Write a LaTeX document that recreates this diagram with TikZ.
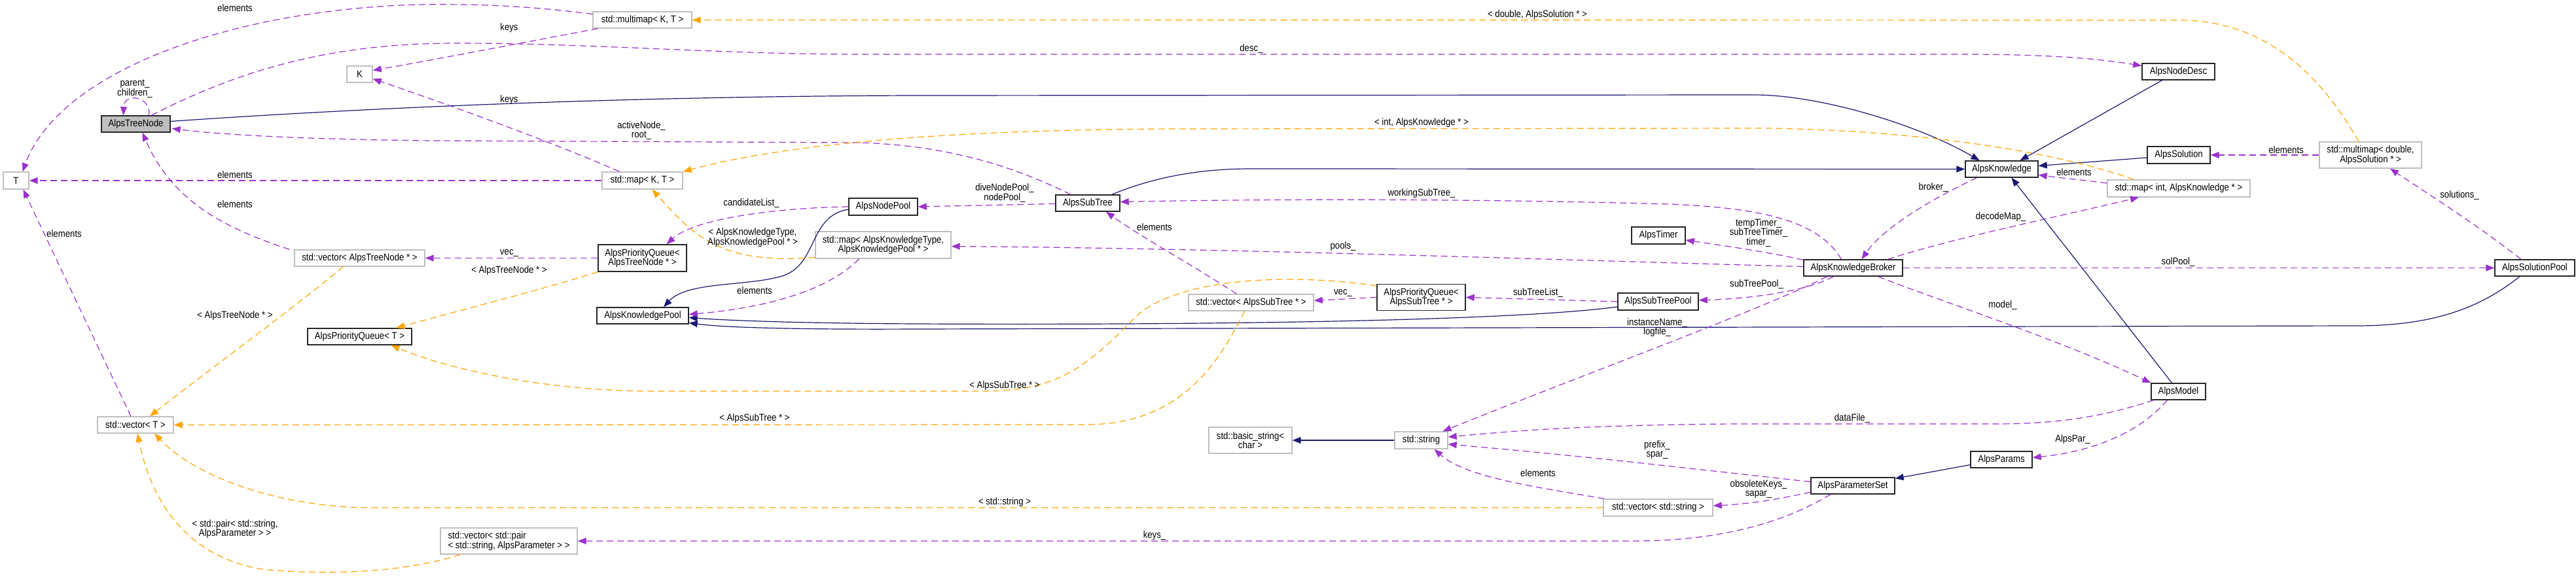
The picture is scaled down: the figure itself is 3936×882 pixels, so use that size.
\documentclass[tikz,border=0pt]{standalone}
\usepackage{fontspec}
\setmainfont{Liberation Sans}[FakeStretch=0.88]
\usetikzlibrary{arrows.meta,calc}
\definecolor{cblue}{HTML}{191970}
\definecolor{cpurple}{HTML}{9A32CD}
\definecolor{corange}{HTML}{FFA500}
\definecolor{cgray}{HTML}{BFBFBF}
\begin{document}
\begin{tikzpicture}[x=1pt,y=-1pt,
  every node/.style={font=\fontsize{15}{14.5}\selectfont},
  cls/.style={draw=black!85, line width=1.4pt, fill=white, minimum height=25pt, inner sep=0pt, align=center},
  ext/.style={cls, draw=cgray},
  sel/.style={cls, fill=cgray},
  lbl/.style={inner sep=0pt, align=center},
  tip/.style={-{Triangle[length=13pt,width=10pt]}},
  inh/.style={draw=cblue, line width=1.2pt, tip},
  use/.style={draw=cpurple, line width=1.2pt, dash pattern=on 10pt off 6pt, tip},
  tmpl/.style={draw=corange, line width=1.2pt, dash pattern=on 10pt off 6pt, tip}]
\fill[white] (0,0) rectangle (3936,882);
\useasboundingbox (0,0) rectangle (3936,882);

% nodes
\node[sel, minimum width=105pt] (treenode) at (207.5,189.5) {AlpsTreeNode};
\node[ext, minimum width=39pt, minimum height=26pt] (T) at (24.5,276) {T};
\node[ext, minimum width=39pt] (K) at (549.5,113.5) {K};
\node[ext, minimum width=199pt] (vecTN) at (549.5,394.5) {std::vector< AlpsTreeNode * >};
\node[ext, minimum width=116pt] (vecT) at (207,649.5) {std::vector< T >};
\node[cls, minimum width=159pt] (pqT) at (549.5,514.5) {AlpsPriorityQueue< T >};
\node[ext, minimum width=151pt] (mmKT) at (981.5,30.5) {std::multimap< K, T >};
\node[ext, minimum width=123pt, minimum height=26pt] (mapKT) at (981.5,276) {std::map< K, T >};
\node[cls, minimum width=135pt, minimum height=41pt] (pqTN) at (981.5,394.5) {AlpsPriorityQueue<\\AlpsTreeNode * >};
\node[cls, minimum width=140pt] (kpool) at (982,482.5) {AlpsKnowledgePool};
\node[ext, minimum width=209pt, minimum height=40pt, align=left] (vecPair) at (777.5,827) {std::vector< std::pair\\< std::string, AlpsParameter > >};
\node[cls, minimum width=105pt, minimum height=26pt] (nodepool) at (1349.5,316) {AlpsNodePool};
\node[ext, minimum width=207pt, minimum height=41pt] (mapKP) at (1349.5,374.5) {std::map< AlpsKnowledgeType,\\AlpsKnowledgePool * >};
\node[cls, minimum width=98pt] (subtree) at (1662,310.5) {AlpsSubTree};
\node[ext, minimum width=191pt] (vecST) at (1911.5,462.5) {std::vector< AlpsSubTree * >};
\node[ext, minimum width=127pt, minimum height=40pt] (bstr) at (1910.5,673) {std::basic\_string<\\char >};
\node[cls, minimum width=82pt, minimum height=26pt] (timer) at (2534,360) {AlpsTimer};
\node[cls, minimum width=135pt, minimum height=40pt] (pqST) at (2171.5,454.5) {AlpsPriorityQueue<\\AlpsSubTree * >};
\node[cls, minimum width=123pt, minimum height=26pt] (stpool) at (2533.5,461) {AlpsSubTreePool};
\node[ext, minimum width=81pt, minimum height=26pt] (str) at (2171.5,673) {std::string};
\node[ext, minimum width=167pt, minimum height=26pt] (vecStr) at (2533.5,776) {std::vector< std::string >};
\node[cls, minimum width=111pt] (know) at (3058.5,258.5) {AlpsKnowledge};
\node[ext, minimum width=218pt, minimum height=26pt] (mapIK) at (3329,288) {std::map< int, AlpsKnowledge * >};
\node[cls, minimum width=151pt] (broker) at (2831.5,409.5) {AlpsKnowledgeBroker};
\node[cls, minimum width=111pt] (nodedesc) at (3328.5,109.5) {AlpsNodeDesc};
\node[cls, minimum width=96pt, minimum height=26pt] (solution) at (3329,237) {AlpsSolution};
\node[cls, minimum width=94pt] (params) at (3058,702.5) {AlpsParams};
\node[cls, minimum width=128pt] (pset) at (2831,742.5) {AlpsParameterSet};
\node[cls, minimum width=83pt] (model) at (3328.5,598.5) {AlpsModel};
\node[ext, minimum width=156pt, minimum height=40pt] (mmDS) at (3622,237) {std::multimap< double,\\AlpsSolution * >};
\node[cls, minimum width=122pt] (solpool) at (3873,409.5) {AlpsSolutionPool};

% inheritance
\draw[inh] ($(treenode.east)+(0,-4)$) .. controls (600,162) and (1000,147) .. (1400,146) -- (2680,145) .. controls (2780,145) and (2930,190) .. ($(know.north)+(-34,0)$);
\draw[inh] ($(subtree.north)+(37,0)$) .. controls (1760,272) and (1830,258) .. (1910,258) -- (know.west);
\draw[inh] ($(nodedesc.south)+(-25,0)$) -- ($(know.north)+(28,0)$);
\draw[inh] ($(solution.west)+(0,4)$) -- ($(know.east)+(0,-5)$);
\draw[inh] ($(model.north)+(-10,0)$) -- ($(know.south)+(15,0)$);
\draw[inh] ($(nodepool.west)+(0,4)$) .. controls (1235,330) and (1250,405) .. (1195,422) .. controls (1140,438) and (1050,430) .. ($(kpool.north)+(32,0)$);
\draw[inh] ($(stpool.west)+(0,8)$) .. controls (2300,492) and (1800,497) .. (1400,495) .. controls (1200,494) and (1100,489) .. ($(kpool.east)+(0,3)$);
\draw[inh] ($(solpool.south)+(-23,0)$) .. controls (3790,470) and (3720,498) .. (3600,498) -- (1400,503) .. controls (1200,504) and (1100,500) .. ($(kpool.east)+(0,11)$);
\draw[inh] (str.west) -- (bstr.east);
\draw[inh] ($(params.west)+(0,8)$) -- ($(pset.east)+(0,-11)$);

% usage
\draw[use] ($(treenode.north)+(20,0)$) .. controls (232,148) and (190,140) .. ($(treenode.north)+(-19,0)$);
\draw[use] ($(treenode.north)+(24,0)$) .. controls (380,100) and (520,66) .. (700,66) .. controls (900,66) and (1100,83) .. (1316,83) -- (3000,83) .. controls (3150,83) and (3220,92) .. ($(nodedesc.west)+(0,-9)$);
\draw[use] ($(mmKT.west)+(0,-9)$) .. controls (800,8) and (720,6) .. (640,7) .. controls (350,15) and (90,110) .. ($(T.north)+(10,0)$);
\draw[use] ($(mmKT.south)+(-68,0)$) .. controls (800,65) and (660,92) .. ($(K.east)+(0,-6)$);
\draw[use] ($(mapKT.north)+(-35,0)$) .. controls (850,220) and (700,165) .. ($(K.east)+(0,7)$);
\draw[use] (mapKT.west) -- (T.east);
\draw[use] ($(subtree.north)+(-26,0)$) .. controls (1550,255) and (1450,222) .. (1312,218) -- (660,215) .. controls (450,213) and (330,205) .. ($(treenode.east)+(2,7)$);
\draw[use] ($(vecTN.north)+(-107,0)$) .. controls (330,345) and (260,300) .. ($(treenode.south)+(10,0)$);
\draw[use] ($(vecT.north)+(-7,0)$) -- ($(T.south)+(11,0)$);
\draw[use] (pqTN.west) -- (vecTN.east);
\draw[use] (nodepool.west) .. controls (1180,318) and (1060,335) .. ($(pqTN.north)+(37,0)$);
\draw[use] ($(mapKP.south)+(-37,0)$) .. controls (1270,440) and (1180,470) .. ($(kpool.east)+(0,-2)$);
\draw[use] ($(subtree.west)+(0,1)$) -- (nodepool.east);
\draw[use] ($(broker.north)+(-18,0)$) .. controls (2780,340) and (2700,318) .. (2550,312) .. controls (2300,305) and (2000,303) .. ($(subtree.east)+(0,-2)$);
\draw[use] ($(vecST.north)+(-22,0)$) .. controls (1830,410) and (1740,360) .. ($(subtree.south)+(28,0)$);
\draw[use] ($(broker.west)+(0,-2)$) .. controls (2400,398) and (1900,380) .. ($(mapKP.east)+(0,2)$);
\draw[use] ($(broker.north west)+(0,1)$) .. controls (2700,385) and (2630,375) .. ($(timer.east)+(0,7)$);
\draw[use] (pqST.west) -- ($(vecST.east)+(0,-3)$);
\draw[use] (stpool.west) -- (pqST.east);
\draw[use] ($(broker.south)+(-30,0)$) .. controls (2760,445) and (2680,456) .. ($(stpool.east)+(0,-2)$);
\draw[use] ($(broker.south)+(-40,0)$) .. controls (2700,470) and (2400,580) .. ($(str.north)+(33,0)$);
\draw[use] ($(model.south)+(-38,0)$) .. controls (3220,635) and (3150,648) .. (3050,648) -- (2650,648) .. controls (2400,650) and (2300,660) .. ($(str.east)+(0,-5)$);
\draw[use] ($(pset.west)+(0,-6)$) .. controls (2600,718) and (2400,695) .. ($(str.east)+(0,6)$);
\draw[use] ($(vecStr.north west)+(2,0)$) .. controls (2350,745) and (2240,730) .. ($(str.south)+(20,0)$);
\draw[use] ($(pset.west)+(0,10)$) .. controls (2720,762) and (2680,770) .. ($(vecStr.east)+(0,-3)$);
\draw[use] ($(pset.south)+(-34,0)$) .. controls (2740,790) and (2650,826) .. (2500,827) -- (vecPair.east);
\draw[use] ($(model.south)+(-17,0)$) .. controls (3270,660) and (3200,690) .. ($(params.east)+(0,-3)$);
\draw[use] ($(broker.south)+(38,0)$) .. controls (2950,455) and (3150,520) .. (model.north west);
\draw[use] ($(mapIK.west)+(0,-8)$) .. controls (3180,275) and (3150,272) .. ($(know.east)+(0,9)$);
\draw[use] ($(know.south)+(-38,0)$) .. controls (2960,300) and (2880,345) .. ($(broker.north)+(13,0)$);
\draw[use] ($(broker.north)+(53,0)$) .. controls (2980,365) and (3150,330) .. ($(mapIK.south)+(-61,0)$);
\draw[use] (broker.east) -- (solpool.west);
\draw[use] (mmDS.west) -- (solution.east);
\draw[use] ($(solpool.north)+(-21,0)$) .. controls (3780,340) and (3700,290) .. ($(mmDS.south)+(30,0)$);

% template instances
\draw[tmpl] ($(mmDS.north)+(-18,0)$) .. controls (3560,140) and (3480,31) .. (3330,31) -- (mmKT.east);
\draw[tmpl] ($(mapIK.north)+(-69,0)$) .. controls (3150,235) and (2950,200) .. (2700,196) -- (1800,197) .. controls (1450,198) and (1200,220) .. (mapKT.north east);
\draw[tmpl] ($(mapKP.west)+(0,19)$) .. controls (1100,405) and (1060,360) .. ($(mapKT.south)+(15,0)$);
\draw[tmpl] ($(vecTN.south)+(-25,0)$) .. controls (450,470) and (300,580) .. ($(vecT.north)+(22,0)$);
\draw[tmpl] (pqTN.south west) .. controls (820,445) and (700,475) .. ($(pqT.north)+(56,0)$);
\draw[tmpl] ($(pqST.north west)+(0,3)$) .. controls (1950,415) and (1800,430) .. (1740,480) .. controls (1660,560) and (1620,598) .. (1500,598) -- (1000,598) .. controls (850,598) and (700,570) .. ($(pqT.south)+(48,0)$);
\draw[tmpl] ($(vecST.south)+(-10,0)$) .. controls (1860,560) and (1800,649) .. (1660,649) -- (vecT.east);
\draw[tmpl] (vecStr.west) -- (550,776) .. controls (400,770) and (290,720) .. ($(vecT.south)+(29,0)$);
\draw[tmpl] ($(vecPair.south west)+(31,0)$) .. controls (620,875) and (500,880) .. (400,870) .. controls (280,850) and (230,760) .. ($(vecT.south)+(3,0)$);

% labels
\node[lbl] (l1) at (206,135.5) {parent\_\\children\_};
\node[lbl] (l2) at (359,12) {elements};
\node[lbl] (l3) at (359,267) {elements};
\node[lbl] (l4) at (359,312) {elements};
\node[lbl] (l5) at (98,357) {elements};
\node[lbl] (l6) at (359,483) {< AlpsTreeNode * >};
\node[lbl] (l7) at (359,808.5) {< std::pair< std::string,\\AlpsParameter > >};
\node[lbl] (l8) at (778,43) {keys};
\node[lbl] (l9) at (778,153) {keys};
\node[lbl] (l10) at (980,199.5) {activeNode\_\\root\_};
\node[lbl] (l11) at (1148,311) {candidateList\_};
\node[lbl] (l12) at (1150,363) {< AlpsKnowledgeType,\\AlpsKnowledgePool * >};
\node[lbl] (l13) at (778,387) {vec\_};
\node[lbl] (l14) at (778,414) {< AlpsTreeNode * >};
\node[lbl] (l15) at (1153,444) {elements};
\node[lbl] (l16) at (1153,640) {< AlpsSubTree * >};
\node[lbl] (l17) at (1912,75) {desc\_};
\node[lbl] (l18) at (1535,295) {diveNodePool\_\\nodePool\_};
\node[lbl] (l19) at (1764,347) {elements};
\node[lbl] (l20) at (1535,590) {< AlpsSubTree * >};
\node[lbl] (l21) at (1535,768) {< std::string >};
\node[lbl] (l22) at (1764,819) {keys\_};
\node[lbl] (l23) at (2349,23) {< double, AlpsSolution * >};
\node[lbl] (l24) at (2172,188) {< int, AlpsKnowledge * >};
\node[lbl] (l25) at (2172,296) {workingSubTree\_};
\node[lbl] (l26) at (2052,377) {pools\_};
\node[lbl] (l27) at (2052,448) {vec\_};
\node[lbl] (l28) at (2350,448) {subTreeList\_};
\node[lbl] (l29) at (2532,500.5) {instanceName\_\\logfile\_};
\node[lbl] (l30) at (2532,687.5) {prefix\_\\spar\_};
\node[lbl] (l31) at (2350,723) {elements};
\node[lbl] (l32) at (3169,263) {elements};
\node[lbl] (l33) at (2954,287) {broker\_};
\node[lbl] (l34) at (3057,332) {decodeMap\_};
\node[lbl] (l35) at (2687,356) {tempTimer\_\\subTreeTimer\_\\timer\_};
\node[lbl] (l36) at (2684,435) {subTreePool\_};
\node[lbl] (l37) at (3060,467) {model\_};
\node[lbl] (l38) at (2830,640) {dataFile\_};
\node[lbl] (l39) at (3167,672) {AlpsPar\_};
\node[lbl] (l40) at (2687,747.5) {obsoleteKeys\_\\sapar\_};
\node[lbl] (l41) at (3493,229) {elements};
\node[lbl] (l42) at (3758,299) {solutions\_};
\node[lbl] (l43) at (3328,401) {solPool\_};
\end{tikzpicture}
\end{document}
